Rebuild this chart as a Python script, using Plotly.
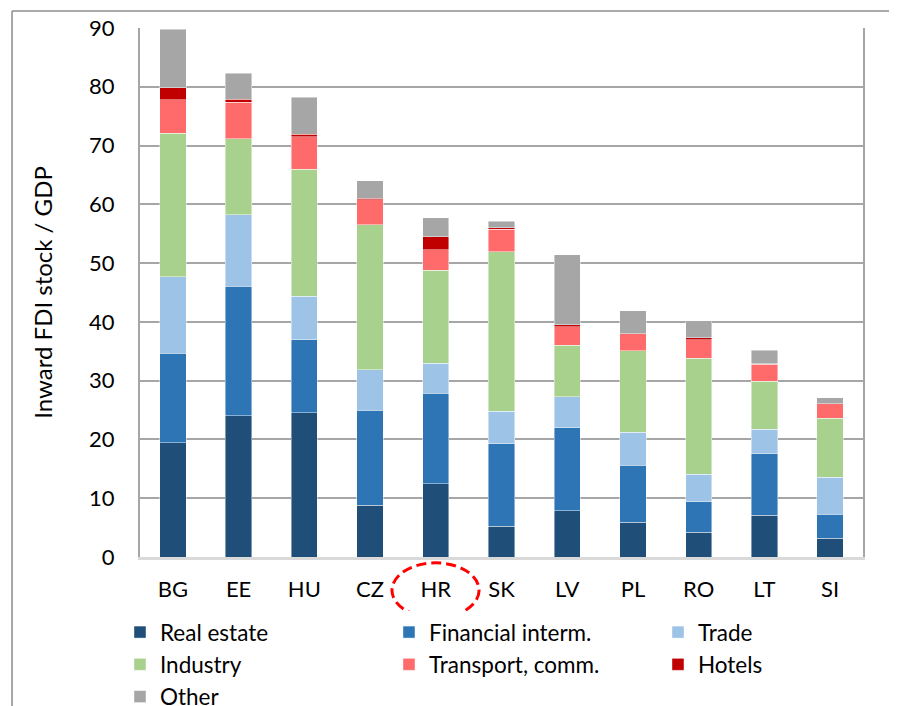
import plotly.graph_objects as go

countries = ["BG", "EE", "HU", "CZ", "HR", "SK", "LV", "PL", "RO", "LT", "SI"]

real_estate = [19.4, 24.0, 24.5, 8.8, 12.5, 5.2, 7.9, 5.9, 4.2, 7.1, 3.2]
financial   = [15.3, 22.1, 12.5, 16.2, 15.4, 14.1, 14.1, 9.7, 5.2, 10.5, 4.1]
trade       = [13.0, 12.1, 7.4, 6.9, 5.1, 5.5, 5.3, 5.6, 4.7, 4.1, 6.3]
industry    = [24.4, 13.0, 21.6, 24.6, 15.8, 27.1, 8.7, 13.9, 19.7, 8.2, 10.0]
transport   = [5.7, 6.2, 5.5, 4.3, 3.5, 3.9, 3.2, 2.9, 3.2, 2.9, 2.5]
hotels      = [2.0, 0.5, 0.4, 0.2, 2.2, 0.2, 0.3, 0.0, 0.3, 0.1, 0.0]
other       = [10.0, 4.4, 6.3, 3.0, 3.2, 1.1, 11.9, 3.9, 2.9, 2.3, 1.0]

series = [
    ("Real estate", real_estate, "#1F4E79"),
    ("Financial interm.", financial, "#2E75B6"),
    ("Trade", trade, "#9DC3E6"),
    ("Industry", industry, "#A9D18E"),
    ("Transport, comm.", transport, "#FF6B6B"),
    ("Hotels", hotels, "#C00000"),
    ("Other", other, "#A6A6A6"),
]

y_ticks = [0, 10, 20, 30, 40, 50, 60, 70, 80, 90]

FONT = "Lato"

fig = go.Figure()
for name, vals, color in series:
    fig.add_trace(go.Bar(
        x=countries, y=vals, name=name,
        marker=dict(color=color, line=dict(color="rgba(255,255,255,0.55)", width=0.8)),
    ))

fig.update_layout(
    barmode="stack",
    bargap=0.6,
    width=897, height=706,
    margin=dict(l=132, r=42, t=20, b=157, autoexpand=False),
    paper_bgcolor="white",
    plot_bgcolor="white",
    font=dict(family=FONT, size=22, color="#000000"),
    showlegend=True,
    legend=dict(
        orientation="h",
        x=-0.0277, y=-0.102, xanchor="left", yanchor="top",
        entrywidth=224, entrywidthmode="pixels",
        font=dict(family=FONT, size=22.5, color="#000000"),
        traceorder="normal",
        itemclick=False,
    ),
    xaxis=dict(
        automargin=False,
        showline=True, linecolor="#D9D9D9", linewidth=3,
        showgrid=False, ticks="outside", ticklen=11, tickcolor="rgba(0,0,0,0)",
        tickfont=dict(family=FONT, size=22),
    ),
    yaxis=dict(
        automargin=False,
        range=[0, 90], tickvals=y_ticks,
        showgrid=True, gridcolor="#A6A6A6", gridwidth=1.5,
        showline=True, linecolor="#A6A6A6", linewidth=2, mirror=True,
        zeroline=False, ticks="outside", ticklen=19, tickcolor="rgba(0,0,0,0)",
        tickfont=dict(family=FONT, size=22),
        title=dict(text="Inward FDI stock / GDP", font=dict(family=FONT, size=24), standoff=30),
    ),
)

# red dashed ellipse around HR label
fig.add_shape(type="circle", xref="paper", yref="paper",
              x0=0.3485, x1=0.469, y0=-0.115, y1=-0.011,
              line=dict(color="#FF0000", width=3, dash="10px,5px"))

# outer chart frame (top and left edges)
fig.add_shape(type="line", xref="paper", yref="paper",
              x0=-0.177, x1=1.1, y0=1.032, y1=1.032,
              line=dict(color="#8C8C8C", width=1.5))
fig.add_shape(type="line", xref="paper", yref="paper",
              x0=-0.177, x1=-0.177, y0=1.032, y1=-0.35,
              line=dict(color="#8C8C8C", width=1.5))

fig.write_html("out.html")
